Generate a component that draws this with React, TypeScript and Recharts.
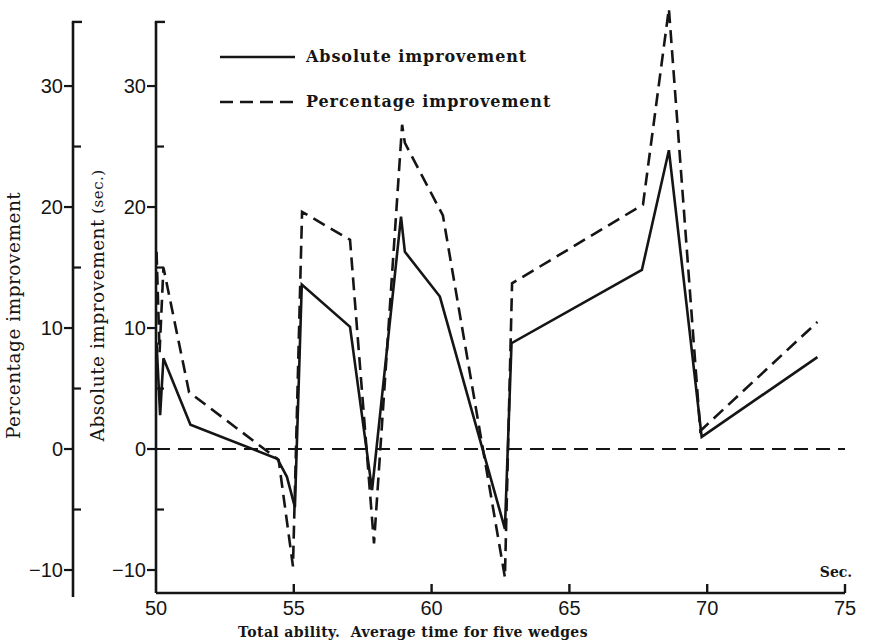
import React from 'react';
import { LineChart, Line, XAxis, YAxis, ReferenceLine, Legend } from 'recharts';

// ---- data ----
const absX = [50.02, 50.15, 50.27, 51.25, 54.4, 54.75, 55.04, 55.29, 57.04, 57.84, 58.89, 59.03, 60.3, 62.66, 62.9, 67.63, 68.61, 69.8, 74.0];
const absY = [8.8, 2.8, 7.5, 2.0, -0.8, -2.3, -4.8, 13.6, 10.1, -3.4, 19.2, 16.3, 12.6, -6.6, 8.75, 14.8, 24.7, 1.0, 7.6];
const pctX = [50.02, 50.13, 50.27, 51.2, 54.45, 54.97, 55.3, 57.04, 57.91, 58.93, 59.03, 60.41, 62.66, 62.92, 67.67, 68.61, 69.75, 74.0];
const pctY = [16.3, 8.0, 15.0, 4.7, -0.9, -9.7, 19.6, 17.3, -7.8, 26.8, 25.3, 19.3, -10.6, 13.7, 20.2, 36.4, 1.5, 10.5];

const xTicks = [50, 55, 60, 65, 70, 75];
const yTicks = [-10, -5, 0, 5, 10, 15, 20, 25, 30, 35.3];
const seriesNames = ['Absolute improvement', 'Percentage improvement'];
const xTitle = 'Total ability.\u00a0 Average time for five wedges';
const yTitleOuter = 'Percentage improvement';
const yTitleInner = 'Absolute improvement';
const yTitleInnerUnit = '(sec.)';
const unitLabel = 'Sec.';

// ---- layout ----
const W = 869;
const H = 643;
const Y_MIN = -11.9;
const Y_MAX = 36.5;
const AXIS_TOP = 35.3;
const MARGIN = { top: 7.4, right: 24, left: 0, bottom: 0 };
const X_AXIS_H = 50;
const PLOT_TOP = MARGIN.top;
const PLOT_BOTTOM = H - MARGIN.bottom - X_AXIS_H;
const PX = (PLOT_BOTTOM - PLOT_TOP) / (Y_MAX - Y_MIN);

const INK = '#151515';
const SANS = '"Liberation Sans", Arial, sans-serif';
const SERIF = '"DejaVu Serif", "Liberation Serif", serif';

const absData = absX.map((x, i) => ({ x, y: absY[i] }));
const pctData = pctX.map((x, i) => ({ x, y: pctY[i] }));

const fmt = (v: number) => (v < 0 ? '\u2212' + Math.abs(v) : String(v));

const makeYTick = (extra: number) => (props: any) => {
  const { x, y, payload } = props;
  const v = payload.value;
  if (v === AXIS_TOP) {
    const len = (AXIS_TOP - Y_MIN) * PX + extra;
    return (
      <g>
        <line x1={x} y1={y} x2={x} y2={y + len} stroke={INK} strokeWidth={2.6} />
        <line x1={x - 1.2} y1={y} x2={x + 9} y2={y} stroke={INK} strokeWidth={2.4} />
      </g>
    );
  }
  if (v % 10 === 0) {
    return (
      <g>
        <line x1={x - 9} y1={y} x2={x} y2={y} stroke={INK} strokeWidth={2.2} />
        <text x={x - 10} y={y} dy="0.36em" textAnchor="end" fontSize={20} fontFamily={SANS} fill={INK}>
          {fmt(v)}
        </text>
      </g>
    );
  }
  return <line x1={x} y1={y} x2={x + 8} y2={y} stroke={INK} strokeWidth={2.2} />;
};

const XTick = (props: any) => {
  const { x, y, payload } = props;
  const v = payload.value;
  return (
    <g>
      {v > 50 && <line x1={x} y1={y} x2={x} y2={y - 9} stroke={INK} strokeWidth={2.4} />}
      <text x={x} y={y + 22} textAnchor="middle" fontSize={20} fontFamily={SANS} fill={INK}>
        {v}
      </text>
      {v === 75 && (
        <text x={x - 9} y={y - 16} textAnchor="middle" fontSize={14} fontWeight="bold" fontFamily={SERIF} fill={INK}>
          {unitLabel}
        </text>
      )}
    </g>
  );
};

const XTitle = (props: any) => {
  const vb = props.viewBox || { x: 156, y: 593 };
  return (
    <text
      x={vb.x + 257}
      y={vb.y + 44}
      textAnchor="middle"
      fontSize={14}
      fontWeight="bold"
      letterSpacing={0.4}
      fontFamily={SERIF}
      fill={INK}
    >
      {xTitle}
    </text>
  );
};

const YTitle = (props: any) => {
  const vb = props.viewBox || { x: 0, y: 0 };
  const cx = vb.x + props.dxc;
  const cy = vb.y + props.dyc;
  return (
    <text
      x={cx}
      y={cy}
      transform={`rotate(-90 ${cx} ${cy})`}
      textAnchor="middle"
      dominantBaseline="central"
      fontSize={18.5}
      letterSpacing={0.5}
      fontFamily={SERIF}
      fill={INK}
    >
      {props.title}
      {props.unit && <tspan fontSize={15}>{' ' + props.unit}</tspan>}
    </text>
  );
};

const LegendBox = () => (
  <div style={{ fontFamily: SERIF, color: INK }}>
    {seriesNames.map((n, i) => (
      <div key={n} style={{ display: 'flex', alignItems: 'center', height: 45 }}>
        <svg width={80} height={10} style={{ display: 'block' }}>
          <line x1={2} y1={5} x2={77} y2={5} stroke={INK} strokeWidth={2.5} strokeDasharray={i === 1 ? '13 7' : undefined} />
        </svg>
        <span style={{ marginLeft: 8, fontSize: 16, fontWeight: 'bold', letterSpacing: 0.9 }}>{n}</span>
      </div>
    ))}
  </div>
);

export default function App() {
  return (
    <div style={{ position: 'absolute', left: 0, top: 0, background: '#fff' }}>
      <LineChart width={W} height={H} margin={MARGIN}>
        <XAxis
          dataKey="x"
          type="number"
          domain={[50, 75]}
          ticks={xTicks}
          interval={0}
          height={X_AXIS_H}
          tickSize={0}
          tickMargin={0}
          tickLine={false}
          axisLine={{ stroke: INK, strokeWidth: 2.6 }}
          tick={<XTick />}
          label={<XTitle />}
        />
        <YAxis
          yAxisId="abs"
          type="number"
          domain={[Y_MIN, Y_MAX]}
          ticks={yTicks}
          interval={0}
          width={83}
          tickSize={0}
          tickMargin={0}
          tickLine={false}
          axisLine={false}
          tick={makeYTick(0)}
          label={<YTitle dxc={25} dyc={298} title={yTitleInner} unit={yTitleInnerUnit} />}
        />
        <YAxis
          yAxisId="pct"
          type="number"
          domain={[Y_MIN, Y_MAX]}
          ticks={yTicks}
          interval={0}
          width={73}
          tickSize={0}
          tickMargin={0}
          tickLine={false}
          axisLine={false}
          tick={makeYTick(4)}
          label={<YTitle dxc={14} dyc={308} title={yTitleOuter} />}
        />
        <Legend
          layout="horizontal"
          verticalAlign="middle"
          content={<LegendBox />}
          wrapperStyle={{ position: 'absolute', left: 218, top: 34, width: 400 }}
        />
        <ReferenceLine yAxisId="abs" y={0} stroke={INK} strokeWidth={2} strokeDasharray="14 8" />
        <Line
          yAxisId="abs"
          data={absData}
          dataKey="y"
          name={seriesNames[0]}
          type="linear"
          stroke={INK}
          strokeWidth={2.6}
          dot={false}
          activeDot={false}
          isAnimationActive={false}
        />
        <Line
          yAxisId="pct"
          data={pctData}
          dataKey="y"
          name={seriesNames[1]}
          type="linear"
          stroke={INK}
          strokeWidth={2.6}
          strokeDasharray="13 7"
          dot={false}
          activeDot={false}
          isAnimationActive={false}
        />
      </LineChart>
    </div>
  );
}
